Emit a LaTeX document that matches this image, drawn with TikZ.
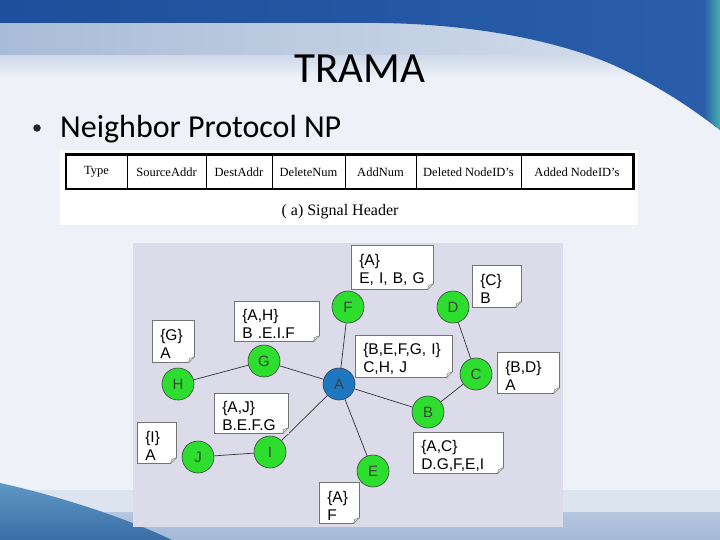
\documentclass[tikz,border=0pt]{standalone}
\usepackage{fontspec}
\setmainfont{Liberation Sans}
\newfontfamily\calfont{Carlito}
\newfontfamily\timesfont{Liberation Serif}
\usetikzlibrary{calc}
\definecolor{darkblue}{HTML}{1E4F9C}
\definecolor{darkblueR}{HTML}{2A5EAA}
\definecolor{tealc}{HTML}{45B0AE}
\definecolor{bandblue}{HTML}{A9BCD7}
\definecolor{bgwhite}{HTML}{EEF1F7}
\definecolor{lowband}{HTML}{DCE4EF}
\definecolor{lowblue}{HTML}{A3B9D7}
\definecolor{wavelow}{HTML}{3A6DA6}
\definecolor{wavelowL}{HTML}{5E98C6}
\definecolor{panelc}{HTML}{DBDBEA}
\definecolor{nodegreen}{HTML}{2EDE2E}
\definecolor{nodeblue}{HTML}{1D78C1}
\tikzset{
  cell/.style={draw=black, line width=0.8pt, minimum height=34, inner sep=0,
    font=\timesfont\fontsize{12.5}{14}\selectfont},
  gnode/.style={circle, draw=black!75, line width=0.6pt, fill=nodegreen,
    minimum size=32, inner sep=0, font=\fontsize{15}{18}\selectfont\color{black!75}},
  anode/.style={gnode, fill=nodeblue},
  edge/.style={draw=black!80, line width=0.7pt},
  note/.style={draw=black!55, line width=0.6pt, fill=white, anchor=north west,
    align=left, inner xsep=8pt, inner ysep=0pt,
    font=\fontsize{15.5}{18}\selectfont, execute at begin node={\rule{0pt}{16.5pt}}},
}
\begin{document}
\begin{tikzpicture}[x=1pt,y=-1pt]
\useasboundingbox (0,0) rectangle (720,540);
% background
\fill[bgwhite] (0,0) rectangle (720,540);
\shade[left color=bandblue, right color=bandblue!45!white] (0,22) rectangle (720,56);
\shade[top color=bandblue!55!white, bottom color=bgwhite] (0,56) rectangle (720,78);
\shade[left color=darkblue, right color=darkblueR]
  (0,0) -- (720,0) -- (720,130) .. controls (700,115) and (670,92) .. (620,68)
  .. controls (560,40) and (470,24) .. (380,23) -- (0,23) -- cycle;
\shade[left color=darkblueR, right color=tealc] (704,0) -- (720,0) -- (720,130) -- (704,116) -- cycle;
\fill[lowband] (0,490) rectangle (720,540);
\shade[top color=lowblue!80!white, bottom color=lowblue] (0,512) rectangle (720,540);
\shade[top color=wavelowL, bottom color=wavelow]
  (0,483) .. controls (50,494) and (120,515) .. (172,540) -- (0,540) -- cycle;
% title
\node[anchor=base, font=\calfont\fontsize{43}{50}\selectfont] (title) at (360,83) {TRAMA};
\node[circle, fill=black!85, minimum size=7.5, inner sep=0] (bullet) at (37,128) {};
\node[anchor=base west, inner sep=0, font=\calfont\fontsize{32}{38}\selectfont] (np) at (60,138) {Neighbor Protocol NP};
% header table
\fill[white] (60,150) rectangle (638,225);
\node[cell, minimum width=61] (t1) at (96.5,172) {Type};
\node[cell, minimum width=79] (t2) at (166.5,172) {SourceAddr};
\node[cell, minimum width=66] (t3) at (239,172) {DestAddr};
\node[cell, minimum width=73] (t4) at (308.5,172) {DeleteNum};
\node[cell, minimum width=71] (t5) at (380.5,172) {AddNum};
\node[cell, minimum width=105] (t6) at (468.5,172) {Deleted NodeID’s};
\node[cell, minimum width=112] (t7) at (577,172) {Added NodeID’s};
\draw[line width=2.2pt] (t1.north west) rectangle (t7.south east);
\node[font=\timesfont\fontsize{16}{18}\selectfont] (cap) at (340,212) {( a) Signal Header};
% graph panel
\fill[panelc] (133,243) rectangle (563,527);
\node[gnode] (F) at (348,307) {F};
\node[gnode] (D) at (453,307) {D};
\node[gnode] (G) at (264,361) {G};
\node[gnode] (H) at (178,384) {H};
\node[anode] (A) at (339,384) {A};
\node[gnode] (C) at (476,374) {C};
\node[gnode] (B) at (428,412) {B};
\node[gnode] (J) at (198,457) {J};
\node[gnode] (I) at (270,452) {I};
\node[gnode] (E) at (373,471) {E};
\draw[edge] (H) -- (G);
\draw[edge] (G) -- (A);
\draw[edge] (F) -- (A);
\draw[edge] (A) -- (I);
\draw[edge] (I) -- (J);
\draw[edge] (A) -- (B);
\draw[edge] (B) -- (C);
\draw[edge] (C) -- (D);
\draw[edge] (A) -- (E);
% notes
\node[note, text width=66, minimum height=44] (nA1) at (351,245) {\{A\}\\E, I, B, G};
\node[note, text width=33, minimum height=42] (nC) at (472,265) {\{C\}\\B};
\node[note, text width=81, minimum height=42] (nBE) at (355,335) {\{B,E,F,G, I\}\\C,H, J};
\node[note, text width=46, minimum height=41] (nBD) at (497,352) {\{B,D\}\\A};
\node[note, text width=69, minimum height=40] (nAH) at (234,301) {\{A,H\}\\B .E.I.F};
\node[note, text width=26, minimum height=42] (nG) at (152,320) {\{G\}\\A};
\node[note, text width=58, minimum height=40] (nAJ) at (214,393) {\{A,J\}\\B.E.F.G};
\node[note, text width=23, minimum height=41] (nI) at (137,422) {\{I\}\\A};
\node[note, text width=74, minimum height=41] (nAC) at (413,432) {\{A,C\}\\D.G,F,E,I};
\node[note, text width=24, minimum height=41] (nA2) at (319,482) {\{A\}\\F};
\foreach \n in {nA1,nC,nBE,nBD,nAH,nG,nAJ,nI,nAC,nA2}{
  \fill[panelc] ($(\n.south east)+(-6,0.3)$) -- ($(\n.south east)+(0.3,0.3)$) -- ($(\n.south east)+(0.3,-6)$) -- cycle;
  \draw[black!55, line width=0.6pt] ($(\n.south east)+(-6,0)$) -- ($(\n.south east)+(0,-6)$);
  \draw[black!55, line width=0.5pt] ($(\n.south east)+(-6,0)$) -- ($(\n.south east)+(-5,-4)$) -- ($(\n.south east)+(0,-6)$);
}
\end{tikzpicture}
\end{document}
